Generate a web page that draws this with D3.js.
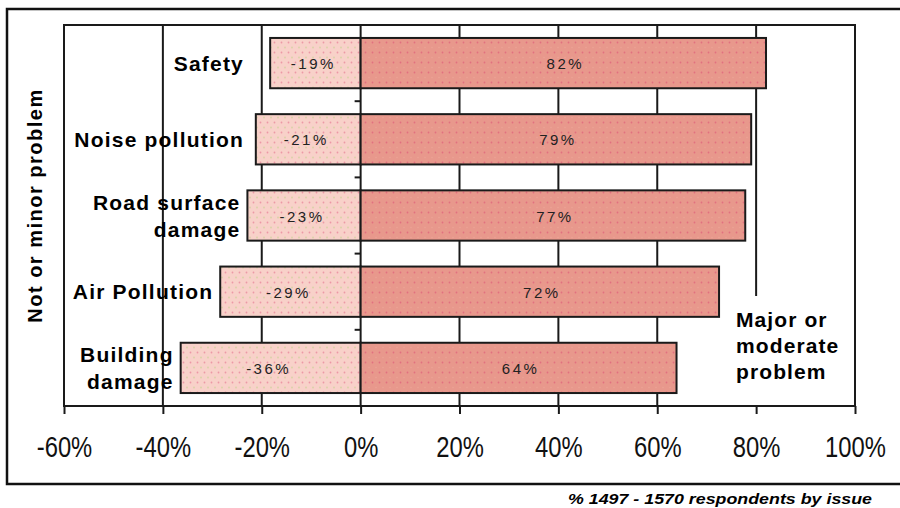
<!DOCTYPE html>
<html>
<head>
<meta charset="utf-8">
<script src="https://cdn.jsdelivr.net/npm/d3@7"></script>
<style>
  html, body { margin: 0; padding: 0; background: #fff; }
  svg { display: block; }
  text { font-family: "Liberation Sans", Arial, sans-serif; }
</style>
</head>
<body>
<svg id="chart" width="900" height="508"></svg>
<script>
// ---- data ----
const categories = ["Safety", "Noise pollution", "Road surface damage", "Air Pollution", "Building damage"];
const categoryLines = [["Safety"], ["Noise pollution"], ["Road surface", "damage"], ["Air Pollution"], ["Building", "damage"]];
const negValues = [-18.3, -21.2, -22.9, -28.4, -36.4];
const posValues = [82.0, 79.0, 77.8, 72.5, 63.9];
const negLabels = ["-19%", "-21%", "-23%", "-29%", "-36%"];
const posLabels = ["82%", "79%", "77%", "72%", "64%"];
const xTicks = [-60, -40, -20, 0, 20, 40, 60, 80, 100];
const xTickLabels = ["-60%", "-40%", "-20%", "0%", "20%", "40%", "60%", "80%", "100%"];
const yTitle = "Not or minor problem";
const rightNote = ["Major or", "moderate", "problem"];
const footnote = "% 1497 - 1570 respondents by issue";

// ---- layout ----
const svg = d3.select("#chart");
const L = 64, R = 855, T = 25, B = 406;
const x = d3.scaleLinear().domain([-60, 100]).range([L, R]);
const y = d3.scaleBand().domain(categories).range([T, B]).paddingInner(0.34).paddingOuter(0.17);
const ink = "#1a1a1a";

// patterns
const defs = svg.append("defs");
const pNeg = defs.append("pattern").attr("id", "pNeg").attr("patternUnits", "userSpaceOnUse")
  .attr("width", 7).attr("height", 10);
pNeg.append("rect").attr("width", 7).attr("height", 10).attr("fill", "#f8d1c9");
pNeg.append("circle").attr("cx", 1.5).attr("cy", 2.5).attr("r", 0.9).attr("fill", "#ec98a6");
pNeg.append("circle").attr("cx", 5).attr("cy", 7.5).attr("r", 0.9).attr("fill", "#d8d2a6");
const pPos = defs.append("pattern").attr("id", "pPos").attr("patternUnits", "userSpaceOnUse")
  .attr("width", 7).attr("height", 10);
pPos.append("rect").attr("width", 7).attr("height", 10).attr("fill", "#e8988c");
pPos.append("circle").attr("cx", 1.5).attr("cy", 2.5).attr("r", 0.9).attr("fill", "#e2707f");
pPos.append("circle").attr("cx", 5).attr("cy", 7.5).attr("r", 0.8).attr("fill", "#eba395");

// gridlines (interior ticks)
svg.append("g").selectAll("line").data(xTicks.filter(d => d !== -60 && d !== 100 && d !== 0)).join("line")
  .attr("x1", d => x(d)).attr("x2", d => x(d)).attr("y1", T).attr("y2", B)
  .attr("stroke", ink).attr("stroke-width", 2);

// zero axis with category ticks
svg.append("line").attr("x1", x(0)).attr("x2", x(0)).attr("y1", T).attr("y2", B)
  .attr("stroke", ink).attr("stroke-width", 2);
const bounds = categories.slice(1).map(c => y(c) - y.step() * y.paddingInner() / 2);
svg.append("g").selectAll("line").data(bounds).join("line")
  .attr("x1", x(0) - 6).attr("x2", x(0)).attr("y1", d => d).attr("y2", d => d)
  .attr("stroke", ink).attr("stroke-width", 2);

// bars
svg.append("g").selectAll("rect").data(categories).join("rect")
  .attr("x", (c, i) => x(negValues[i])).attr("y", c => y(c))
  .attr("width", (c, i) => x(0) - x(negValues[i])).attr("height", y.bandwidth())
  .attr("fill", "url(#pNeg)").attr("stroke", ink).attr("stroke-width", 2);
svg.append("g").selectAll("rect").data(categories).join("rect")
  .attr("x", x(0)).attr("y", c => y(c))
  .attr("width", (c, i) => x(posValues[i]) - x(0)).attr("height", y.bandwidth())
  .attr("fill", "url(#pPos)").attr("stroke", ink).attr("stroke-width", 2);

// bar labels
svg.append("g").selectAll("text").data(categories).join("text")
  .attr("x", (c, i) => (x(negValues[i]) + x(0)) / 2 - 2).attr("y", c => y(c) + y.bandwidth() / 2 + 6)
  .attr("text-anchor", "middle").attr("font-size", 15).attr("letter-spacing", 2.5).attr("fill", "#222")
  .text((c, i) => negLabels[i]);
svg.append("g").selectAll("text").data(categories).join("text")
  .attr("x", (c, i) => (x(posValues[i]) + x(0)) / 2 + 2).attr("y", c => y(c) + y.bandwidth() / 2 + 6)
  .attr("text-anchor", "middle").attr("font-size", 15).attr("letter-spacing", 2.5).attr("fill", "#222")
  .text((c, i) => posLabels[i]);

// category labels
const catG = svg.append("g");
categories.forEach((c, i) => {
  const lines = categoryLines[i];
  const cx = Math.min(244, x(negValues[i]) - 7);
  const cy = y(c) + y.bandwidth() / 2;
  const first = lines.length === 1 ? cy + 7.5 : cy - 6;
  const t = catG.append("text").attr("text-anchor", "end").attr("font-size", 21)
    .attr("font-weight", "bold").attr("letter-spacing", 1.2).attr("fill", "#000");
  lines.forEach((ln, j) => {
    t.append("tspan").attr("x", cx).attr("y", first + j * 27).text(ln);
  });
});

// right note with white background over gridline
svg.append("rect").attr("x", 728).attr("y", 296).attr("width", 125).attr("height", B - 296 - 1)
  .attr("fill", "#fff");
const note = svg.append("text").attr("font-size", 21).attr("font-weight", "bold")
  .attr("letter-spacing", 1.1).attr("fill", "#000");
rightNote.forEach((ln, j) => note.append("tspan").attr("x", 736).attr("y", 327 + j * 26).text(ln));

// plot border
svg.append("rect").attr("x", L).attr("y", T).attr("width", R - L).attr("height", B - T)
  .attr("fill", "none").attr("stroke", ink).attr("stroke-width", 2);

// bottom axis ticks and labels
const axis = d3.axisBottom(x).tickValues(xTicks).tickSize(8).tickSizeOuter(0)
  .tickFormat((d, i) => xTickLabels[i]);
const ax = svg.append("g").attr("transform", `translate(0,${B})`).call(axis);
ax.select(".domain").remove();
ax.selectAll(".tick line").attr("stroke", ink).attr("stroke-width", 2);
ax.selectAll(".tick text").attr("font-size", 29).attr("fill", "#111").attr("dy", null).attr("y", 51)
  .attr("font-family", "'Liberation Sans', Arial, sans-serif")
  .each(function () {
    const len = this.getComputedTextLength();
    d3.select(this).attr("textLength", len * 0.82).attr("lengthAdjust", "spacingAndGlyphs");
  });

// y title
svg.append("text").attr("transform", `translate(42,${(T + B) / 2 - 10}) rotate(-90)`)
  .attr("text-anchor", "middle").attr("font-size", 20).attr("font-weight", "bold")
  .attr("letter-spacing", 1.5).attr("fill", "#000").text(yTitle);

// footnote
svg.append("text").attr("x", 568).attr("y", 504).attr("font-size", 15).attr("font-weight", "bold")
  .attr("font-style", "italic").attr("fill", "#000").attr("textLength", 304).attr("lengthAdjust", "spacingAndGlyphs")
  .text(footnote);

// outer frame
svg.append("rect").attr("x", 7).attr("y", 9).attr("width", 900).attr("height", 475)
  .attr("fill", "none").attr("stroke", "#111").attr("stroke-width", 2.5);
</script>
</body>
</html>
